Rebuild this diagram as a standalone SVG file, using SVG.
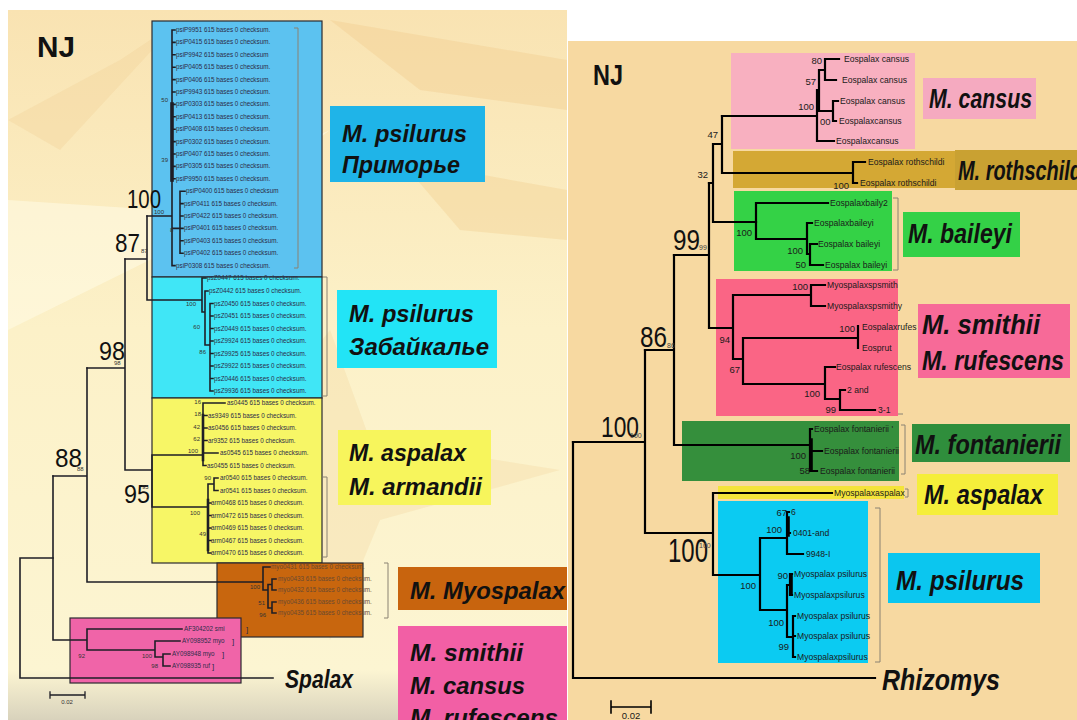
<svg xmlns="http://www.w3.org/2000/svg" width="1077" height="720" viewBox="0 0 1077 720">
<defs>
<style>
.lt{fill:none;stroke:#1e1e26;stroke-width:1.6;stroke-linecap:square}
.rt{fill:none;stroke:#000;stroke-width:2.2;stroke-linecap:square}
.br{fill:none;stroke:#8a8272;stroke-width:1}
.tl{font-family:"Liberation Sans",Arial,sans-serif;font-size:6.3px;fill:#2c2c48}
.tm{font-family:"Liberation Sans",Arial,sans-serif;font-size:6.3px;fill:#6a4a30}
.tr{font-family:"Liberation Sans",Arial,sans-serif;font-size:8.6px;fill:#1a1a1a}
.ns{font-family:"Liberation Sans",Arial,sans-serif;font-size:6px;fill:#333}
.nr{font-family:"Liberation Sans",Arial,sans-serif;font-size:9.5px;fill:#1a1a1a}
.nt{font-family:"Liberation Sans",Arial,sans-serif;font-size:7px;fill:#444}
.big{font-family:"Liberation Sans",Arial,sans-serif;fill:#111}
.lb{font-family:"Liberation Sans",Arial,sans-serif;font-weight:bold;font-style:italic;fill:#111}
.nj{font-family:"Liberation Sans",Arial,sans-serif;font-weight:bold;fill:#111}
.box{stroke:#2a2a30;stroke-width:1.2}
</style>
<linearGradient id="bgL" x1="0" y1="0" x2="0" y2="1">
<stop offset="0" stop-color="#f9e3b2"/>
<stop offset="0.45" stop-color="#fcf1c8"/>
<stop offset="0.93" stop-color="#fcf5d2"/>
<stop offset="1" stop-color="#d8d2bc"/>
</linearGradient>
</defs>

<rect x="0" y="0" width="1077" height="720" fill="#ffffff"/>

<g id="left-background">
<rect x="8" y="10" width="559" height="710" fill="url(#bgL)"/>
<polygon points="8,200 160,210 330,130 170,250 8,330" fill="#fffbe6" opacity="0.55"/>
<polygon points="330,20 567,60 567,110 420,90" fill="#f2cf92" opacity="0.45"/>
<polygon points="400,160 567,190 567,240 460,230" fill="#f2cf92" opacity="0.4"/>
<polygon points="260,420 330,330 370,440 560,470 380,520 330,640 300,510 160,520 280,470" fill="#f3d49c" opacity="0.3"/>
<polygon points="8,120 120,60 180,20 60,150" fill="#f2d098" opacity="0.35"/>
</g>

<g id="right-background">
<rect x="568" y="41" width="509" height="679" fill="#f7d9a1"/>
</g>

<g id="left-clade-boxes">
<rect id="box-primorye" class="box" x="152" y="21" width="170" height="256" fill="#5cc2f0"/>
<rect id="box-zabaikalye" class="box" x="152" y="277" width="170" height="121" fill="#40e6f6"/>
<rect id="box-aspalax" class="box" x="152" y="398" width="170" height="165" fill="#f7f666"/>
<rect id="box-myospalax" class="box" x="217" y="563" width="146" height="74" fill="#c8660e"/>
<rect id="box-smithii" class="box" x="70" y="618" width="171" height="65" fill="#f064a8"/>
</g>

<g id="left-connectors">
<path class="lt" d="M147 216H172 M172 30V265.6 M172 30h3 M172 42.4h3 M172 54.8h3 M172 67.2h3 M172 79.6h3 M172 92h3 M172 104.4h3 M172 116.8h3 M172 129.2h3 M172 141.6h3 M172 154h3 M172 166.4h3 M172 178.8h3 M172 265.6h3 M172 228.4H180 M180 191.2V253.2 M180 191.2h5 M180 203.6h3 M180 216h3 M180 228.4h3 M180 240.8h3 M180 253.2h3"/>
<path class="lt" style="stroke-width:3.6" d="M172 104V180"/>
<path class="lt" d="M125 259H147 M147 216V300 M147 300H202 M202 278V312 M202 278h4 M202 312h3 M205 291V345 M205 291h3 M205 345h5 M210 303.5V391 M210 303.5h3 M210 316h3 M210 328.5h3 M210 341h3 M210 353.5h3 M210 366h3 M210 378.5h3 M210 391h3"/>
<path class="lt" d="M125 259V470 M87 368H125 M125 470H152 M152 455V507 M152 455H203 M152 507H208 M203 403V465.5 M203 403H225 M203 415.5h4 M203 428h4 M203 440.5h4 M203 453H218 M203 465.5h3 M208 484V553 M208 484H214 M214 478V490.5 M214 478h4 M214 490.5h4 M208 503h3 M208 515.5h3 M208 528h3 M208 540.5h3 M208 553h3"/>
<path class="lt" style="stroke-width:2.6" d="M203 415V460 M208 500V550"/>
<path class="lt" d="M87 368V582 M53 476H87 M87 582H263 M263 567V590 M263 567h7 M263 590H268 M268 584.5V608 M268 584.5H272 M272 579V590 M272 579h4 M272 590h4 M268 608H272 M272 602V613 M272 602h4 M272 613h4"/>
<path class="lt" d="M53 476V640 M53 640H87 M87 629V650 M87 629H182 M87 650H155 M155 641V657 M155 641H180 M155 657H163 M163 654V666 M163 654H170 M163 666H170"/>
<path class="lt" d="M20 558V678 M20 558H53 M20 678H273"/>
<path class="lt" style="stroke-width:1.3" d="M50 695H85 M50 692V698 M85 692V698"/>
<path class="br" d="M294 28H298V268H294 M323 277H327V396H323 M323 477H327V557H323 M384 563H388V618H384"/>
</g>

<g id="left-tips-primorye">
<text class="tl" x="176" y="32">psiP9951 615 bases 0 checksum.</text>
<text class="tl" x="176" y="44.4">psiP0415 615 bases 0 checksum.</text>
<text class="tl" x="176" y="56.8">psiP9942 615 bases 0 checksum</text>
<text class="tl" x="176" y="69.2">psiP0405 615 bases 0 checksum.</text>
<text class="tl" x="176" y="81.6">psiP0406 615 bases 0 checksum.</text>
<text class="tl" x="176" y="94">psiP9943 615 bases 0 checksum.</text>
<text class="tl" x="176" y="106.4">psiP0303 615 bases 0 checksum.</text>
<text class="tl" x="176" y="118.8">psiP0413 615 bases 0 checksum.</text>
<text class="tl" x="176" y="131.2">psiP0408 615 bases 0 checksum.</text>
<text class="tl" x="176" y="143.6">psiP0302 615 bases 0 checksum.</text>
<text class="tl" x="176" y="156">psiP0407 615 bases 0 checksum.</text>
<text class="tl" x="176" y="168.4">psiP0305 615 bases 0 checksum.</text>
<text class="tl" x="176" y="180.8">psiP9950 615 bases 0 checksum.</text>
<text class="tl" x="186" y="193.2">psiP0400 615 bases 0 checksum</text>
<text class="tl" x="184" y="205.6">psiP0411 615 bases 0 checksum.</text>
<text class="tl" x="184" y="218">psiP0422 615 bases 0 checksum.</text>
<text class="tl" x="184" y="230.4">psiP0401 615 bases 0 checksum.</text>
<text class="tl" x="184" y="242.8">psiP0403 615 bases 0 checksum.</text>
<text class="tl" x="184" y="255.2">psiP0402 615 bases 0 checksum.</text>
<text class="tl" x="176" y="267.6">psiP0308 615 bases 0 checksum.</text>
<text class="ns" x="168" y="102" text-anchor="end">50</text>
<text class="ns" x="168" y="162" text-anchor="end">39</text>
<text class="ns" x="154" y="214">100</text>
<text class="ns" x="170" y="232">8</text>
</g>

<g id="left-tips-zabaikalye">
<text class="tl" x="207" y="280">psZ0447 615 bases 0 checksum.</text>
<text class="tl" x="209" y="293">psZ0442 615 bases 0 checksum.</text>
<text class="tl" x="214" y="305.5">psZ0450 615 bases 0 checksum.</text>
<text class="tl" x="214" y="318">psZ0451 615 bases 0 checksum.</text>
<text class="tl" x="214" y="330.5">psZ0449 615 bases 0 checksum.</text>
<text class="tl" x="214" y="343">psZ9924 615 bases 0 checksum.</text>
<text class="tl" x="214" y="355.5">psZ9925 615 bases 0 checksum.</text>
<text class="tl" x="214" y="368">psZ9922 615 bases 0 checksum.</text>
<text class="tl" x="214" y="380.5">psZ0446 615 bases 0 checksum.</text>
<text class="tl" x="214" y="393">psZ9936 615 bases 0 checksum.</text>
<text class="ns" x="196" y="306" text-anchor="end">100</text>
<text class="ns" x="200" y="329" text-anchor="end">60</text>
<text class="ns" x="206" y="354" text-anchor="end">86</text>
</g>

<g id="left-tips-aspalax">
<text class="tl" x="227" y="405">as0445 615 bases 0 checksum.</text>
<text class="tl" x="208" y="417.5">as9349 615 bases 0 checksum.</text>
<text class="tl" x="208" y="430">as0456 615 bases 0 checksum.</text>
<text class="tl" x="208" y="442.5">ar9352 615 bases 0 checksum.</text>
<text class="tl" x="220" y="455">as0545 615 bases 0 checksum.</text>
<text class="tl" x="207" y="467.5">as0455 615 bases 0 checksum.</text>
<text class="tl" x="220" y="480">ar0540 615 bases 0 checksum.</text>
<text class="tl" x="220" y="492.5">ar0541 615 bases 0 checksum.</text>
<text class="tl" x="211" y="505">arm0468 615 bases 0 checksum.</text>
<text class="tl" x="211" y="517.5">arm0472 615 bases 0 checksum.</text>
<text class="tl" x="211" y="530">arm0469 615 bases 0 checksum.</text>
<text class="tl" x="211" y="542.5">arm0467 615 bases 0 checksum.</text>
<text class="tl" x="211" y="555">arm0470 615 bases 0 checksum.</text>
<text class="ns" x="201" y="404" text-anchor="end">16</text>
<text class="ns" x="201" y="416" text-anchor="end">18</text>
<text class="ns" x="200" y="429" text-anchor="end">42</text>
<text class="ns" x="200" y="441" text-anchor="end">62</text>
<text class="ns" x="198" y="453" text-anchor="end">100</text>
<text class="ns" x="211" y="480" text-anchor="end">90</text>
<text class="ns" x="200" y="515" text-anchor="end">100</text>
<text class="ns" x="206" y="536" text-anchor="end">49</text>
</g>

<g id="left-tips-myospalax">
<text class="tm" x="271" y="569">myo0431 615 bases 0 checksum.</text>
<text class="tm" x="278" y="581">myo0433 615 bases 0 checksum.</text>
<text class="tm" x="278" y="592">myo0432 615 bases 0 checksum.</text>
<text class="tm" x="278" y="604">myo0436 615 bases 0 checksum.</text>
<text class="tm" x="278" y="615">myo0435 615 bases 0 checksum.</text>
<text class="ns" x="260" y="589" text-anchor="end">100</text>
<text class="ns" x="265" y="605" text-anchor="end">51</text>
<text class="ns" x="266" y="617" text-anchor="end">96</text>
</g>

<g id="left-tips-smithii">
<text class="tl" x="184" y="631">AF304202 smi</text>
<text class="tl" x="182" y="643">AY098952 myo</text>
<text class="tl" x="172" y="656">AY098948 myo</text>
<text class="tl" x="172" y="668">AY098935 ruf</text>
<text class="tl" x="246" y="632" style="font-size:8px">]</text>
<text class="tl" x="232" y="644" style="font-size:8px">]</text>
<text class="tl" x="222" y="657" style="font-size:8px">]</text>
<text class="tl" x="212" y="669" style="font-size:8px">]</text>
<text class="ns" x="85" y="658" text-anchor="end">92</text>
<text class="ns" x="152" y="658" text-anchor="end">100</text>
<text class="ns" x="158" y="668" text-anchor="end">98</text>
</g>

<g id="left-support-values">
<text class="nj" x="37" y="57" font-size="30" textLength="38" lengthAdjust="spacingAndGlyphs">NJ</text>
<text class="big" x="127" y="208" font-size="25" textLength="34" lengthAdjust="spacingAndGlyphs">100</text>
<text class="big" x="115" y="252" font-size="25" textLength="25" lengthAdjust="spacingAndGlyphs">87</text>
<text class="ns" x="141" y="253">87</text>
<text class="big" x="99" y="360" font-size="25" textLength="26" lengthAdjust="spacingAndGlyphs">98</text>
<text class="ns" x="114" y="365">98</text>
<text class="big" x="55" y="467" font-size="25" textLength="27" lengthAdjust="spacingAndGlyphs">88</text>
<text class="ns" x="77" y="471">88</text>
<text class="big" x="124" y="503" font-size="25" textLength="26" lengthAdjust="spacingAndGlyphs">95</text>
<text class="ns" x="142" y="489">95</text>
<text class="ns" x="67" y="704" text-anchor="middle">0.02</text>
</g>

<g id="left-labels">
<g id="lbl-primorye">
<rect x="330" y="106" width="155" height="76" fill="#1fb4e8"/>
<text class="lb" x="342" y="142" font-size="24" textLength="125" lengthAdjust="spacingAndGlyphs">M. psilurus</text>
<text class="lb" x="342" y="173" font-size="24" textLength="118" lengthAdjust="spacingAndGlyphs">Приморье</text>
</g>
<g id="lbl-zabaikalye">
<rect x="337" y="290" width="160" height="78" fill="#22e4f6"/>
<text class="lb" x="349" y="322" font-size="24" textLength="125" lengthAdjust="spacingAndGlyphs">M. psilurus</text>
<text class="lb" x="349" y="355" font-size="24" textLength="140" lengthAdjust="spacingAndGlyphs">Забайкалье</text>
</g>
<g id="lbl-aspalax">
<rect x="338" y="430" width="153" height="75" fill="#f7f55c"/>
<text class="lb" x="349" y="461" font-size="24" textLength="117" lengthAdjust="spacingAndGlyphs">M. aspalax</text>
<text class="lb" x="349" y="495" font-size="24" textLength="133" lengthAdjust="spacingAndGlyphs">M. armandii</text>
</g>
<g id="lbl-myospalax">
<rect x="398" y="567" width="169" height="43" fill="#c8640e"/>
<text class="lb" x="410" y="599" font-size="24" textLength="155" lengthAdjust="spacingAndGlyphs">M. Myospalax</text>
</g>
<g id="lbl-smithii">
<rect x="398" y="626" width="169" height="94" fill="#f25fa5"/>
<text class="lb" x="410" y="661" font-size="24" textLength="113" lengthAdjust="spacingAndGlyphs">M. smithii</text>
<text class="lb" x="410" y="694" font-size="24" textLength="115" lengthAdjust="spacingAndGlyphs">M. cansus</text>
<text class="lb" x="410" y="726" font-size="24" textLength="148" lengthAdjust="spacingAndGlyphs">M. rufescens</text>
</g>
<text id="lbl-spalax" class="lb" x="285" y="688" font-size="26" textLength="68" lengthAdjust="spacingAndGlyphs">Spalax</text>
</g>

<g id="right-clade-boxes">
<rect id="rbox-cansus" x="731" y="53" width="184" height="96" fill="#f8b0c0"/>
<rect id="rbox-rothschildi" x="733" y="151" width="222" height="37" fill="#d4a834"/>
<rect id="rbox-baileyi" x="734" y="191" width="158" height="80" fill="#34d246"/>
<rect id="rbox-smithii" x="716" y="279" width="182" height="137" fill="#fa6585"/>
<rect id="rbox-fontanierii" x="682" y="421" width="217" height="60" fill="#358f3c"/>
<rect id="rbox-aspalax" x="718" y="486" width="186" height="13" fill="#f4e43a"/>
<rect id="rbox-psilurus" x="718" y="501" width="150" height="162" fill="#0bcbf2"/>
</g>

<g id="right-connectors">
<path class="rt" d="M825 59V80 M825 59H839 M825 80H836 M833 101V121 M833 101H838 M833 121H836 M819 70V111 M819 70H825 M819 111H833 M817 90V141 M817 90H819 M817 141H834 M722 116H817"/>
<path class="rt" d="M853 162V183 M853 162H865 M853 183H857 M722 173H853 M722 116V173 M713 144H722 M713 144V222 M709 183H713 M713 222H756"/>
<path class="rt" d="M756 203V239 M756 203H828 M756 239H807 M807 223V254 M807 223H812 M807 254H810 M810 244V265 M810 244H817 M810 265H823"/>
<path class="rt" d="M709 183V328 M674 255H709 M709 328H733 M733 295V359 M733 295H811 M811 285V306 M811 285H825 M811 306H825 M733 359H743 M743 338V384 M743 338H858 M858 326V348 M743 384H825 M825 367V399 M825 367H835 M825 399H840 M840 390V410 M840 390H845 M840 410H875"/>
<path class="rt" d="M674 255V445 M645 350H674 M674 445H810 M810 429V471 M810 429H812 M810 451H822 M810 471H817"/>
<path class="rt" style="stroke-width:3.6" d="M811 440V470 M788 518V535 M791 576V594"/>
<path class="rt" d="M645 350V533 M573 442H645 M645 533H713 M713 493V575 M713 493H832 M713 575H760 M760 538V610 M760 538H787 M760 610H787 M787 512V554 M787 512H789 M787 533H790 M787 554H803 M787 585V637 M787 585H790 M790 574V595 M790 574H792 M790 595H792 M787 637H793 M793 616V657 M793 616H795 M793 636H795 M793 657H795"/>
<path class="rt" d="M573 442V678 M573 678H875"/>
<path class="rt" style="stroke-width:1.6" d="M611 707H651 M611 701V713 M651 701V713"/>
<path class="br" d="M893 198H898V270H893 M898 414H903 M901 425H905V474H901 M905 489H908V497H905 M875 508H880V662H875"/>
</g>

<g id="right-tips">
<text class="tr" x="844" y="62">Eospalax cansus</text>
<text class="tr" x="842" y="83">Eospalax cansus</text>
<text class="tr" x="840" y="104">Eospalax cansus</text>
<text class="tr" x="839" y="124">Eospalaxcansus</text>
<text class="tr" x="836" y="144">Eospalaxcansus</text>
<text class="tr" x="868" y="165">Eospalax rothschildi</text>
<text class="tr" x="860" y="186">Eospalax rothschildi</text>
<text class="tr" x="830" y="206">Eospalaxbaily2</text>
<text class="tr" x="814" y="226">Eospalaxbaileyi</text>
<text class="tr" x="818" y="247">Eospalax baileyi</text>
<text class="tr" x="825" y="268">Eospalax baileyi</text>
<text class="tr" x="827" y="288">Myospalaxspsmith</text>
<text class="tr" x="827" y="309">Myospalaxspsmithy</text>
<text class="tr" x="862" y="330">Eospalaxrufes</text>
<text class="tr" x="862" y="351">Eosprut</text>
<text class="tr" x="836" y="370">Eospalax rufescens</text>
<text class="tr" x="847" y="393">2 and</text>
<text class="tr" x="878" y="413">3-1</text>
<text class="tr" x="814" y="432">Eospalax fontanierii '</text>
<text class="tr" x="824" y="454">Eospalax fontanierii</text>
<text class="tr" x="820" y="474">Eospalax fontanierii</text>
<text class="tr" x="834" y="496">Myospalaxaspalax</text>
<text class="tr" x="791" y="515">6</text>
<text class="tr" x="793" y="536">0401-and</text>
<text class="tr" x="806" y="557">9948-I</text>
<text class="tr" x="794" y="577">Myospalax psilurus</text>
<text class="tr" x="794" y="598">Myospalaxpsilurus</text>
<text class="tr" x="797" y="619">Myospalax psilurus</text>
<text class="tr" x="797" y="639">Myospalax psilurus</text>
<text class="tr" x="797" y="660">Myospalaxpsilurus</text>
</g>

<g id="right-support-values">
<text class="nj" x="593" y="85" font-size="30" textLength="30" lengthAdjust="spacingAndGlyphs">NJ</text>
<text class="nr" x="822" y="64" text-anchor="end">80</text>
<text class="nr" x="816" y="85" text-anchor="end">57</text>
<text class="nr" x="814" y="110" text-anchor="end">100</text>
<text class="nr" x="820" y="125">00</text>
<text class="nr" x="849" y="189" text-anchor="end">100</text>
<text class="nr" x="718" y="138" text-anchor="end">47</text>
<text class="nr" x="708" y="178" text-anchor="end">32</text>
<text class="nr" x="752" y="236" text-anchor="end">100</text>
<text class="nr" x="803" y="254" text-anchor="end">100</text>
<text class="nr" x="806" y="268" text-anchor="end">50</text>
<text class="nr" x="808" y="290" text-anchor="end">100</text>
<text class="nr" x="730" y="343" text-anchor="end">94</text>
<text class="nr" x="740" y="373" text-anchor="end">67</text>
<text class="nr" x="855" y="332" text-anchor="end">100</text>
<text class="nr" x="820" y="397" text-anchor="end">100</text>
<text class="nr" x="836" y="413" text-anchor="end">99</text>
<text class="nr" x="806" y="459" text-anchor="end">100</text>
<text class="nr" x="810" y="474" text-anchor="end">58</text>
<text class="nr" x="787" y="516" text-anchor="end">67</text>
<text class="nr" x="782" y="533" text-anchor="end">100</text>
<text class="nr" x="756" y="589" text-anchor="end">100</text>
<text class="nr" x="788" y="579" text-anchor="end">90</text>
<text class="nr" x="784" y="626" text-anchor="end">100</text>
<text class="nr" x="789" y="650" text-anchor="end">99</text>
<text class="big" x="673" y="250" font-size="30" textLength="27" lengthAdjust="spacingAndGlyphs">99</text>
<text class="nt" x="699" y="250">99</text>
<text class="big" x="640" y="347" font-size="30" textLength="27" lengthAdjust="spacingAndGlyphs">86</text>
<text class="nt" x="667" y="348">86</text>
<text class="big" x="601" y="437" font-size="30" textLength="38" lengthAdjust="spacingAndGlyphs">100</text>
<text class="nt" x="630" y="438">100</text>
<text class="big" x="668" y="562" font-size="34" textLength="40" lengthAdjust="spacingAndGlyphs">100</text>
<text class="nt" x="699" y="548">100</text>
<text class="nr" x="631" y="719" text-anchor="middle">0.02</text>
</g>

<g id="right-labels">
<g id="rlbl-cansus"><rect x="923" y="78" width="113" height="41" fill="#f5aac0"/>
<text class="lb" x="929" y="108" font-size="27" textLength="103" lengthAdjust="spacingAndGlyphs">M. cansus</text></g>
<g id="rlbl-rothschildi"><rect x="955" y="150" width="122" height="40" fill="#c9a132"/>
<text class="lb" x="958" y="180" font-size="27" textLength="124" lengthAdjust="spacingAndGlyphs">M. rothschild</text></g>
<g id="rlbl-baileyi"><rect x="903" y="212" width="117" height="45" fill="#34d147"/>
<text class="lb" x="908" y="243" font-size="27" textLength="104" lengthAdjust="spacingAndGlyphs">M. baileyi</text></g>
<g id="rlbl-smithii"><rect x="918" y="304" width="152" height="74" fill="#f76a98"/>
<text class="lb" x="922" y="334" font-size="27" textLength="118" lengthAdjust="spacingAndGlyphs">M. smithii</text>
<text class="lb" x="922" y="370" font-size="27" textLength="142" lengthAdjust="spacingAndGlyphs">M. rufescens</text></g>
<g id="rlbl-fontanierii"><rect x="912" y="424" width="158" height="38" fill="#2f8e3c"/>
<text class="lb" x="915" y="454" font-size="27" textLength="146" lengthAdjust="spacingAndGlyphs">M. fontanierii</text></g>
<g id="rlbl-aspalax"><rect x="917" y="474" width="141" height="41" fill="#f5ee3a"/>
<text class="lb" x="924" y="504" font-size="27" textLength="119" lengthAdjust="spacingAndGlyphs">M. aspalax</text></g>
<g id="rlbl-psilurus"><rect x="888" y="553" width="152" height="50" fill="#0bc6ef"/>
<text class="lb" x="896" y="590" font-size="27" textLength="128" lengthAdjust="spacingAndGlyphs">M. psilurus</text></g>
<text id="rlbl-rhizomys" class="lb" x="882" y="690" font-size="29" textLength="118" lengthAdjust="spacingAndGlyphs">Rhizomys</text>
</g>
</svg>
